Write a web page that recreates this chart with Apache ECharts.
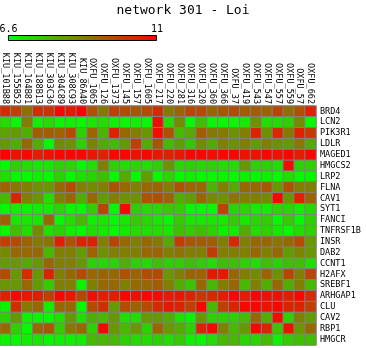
<!DOCTYPE html>
<html><head><meta charset="utf-8">
<script src="https://cdn.jsdelivr.net/npm/echarts@6/dist/echarts.min.js"></script>
<style>html,body{margin:0;padding:0;background:#fff}#c{width:366px;height:348px}</style>
</head><body><div id="c"></div>
<script>
const titleText = 'network 301 - Loi';
const scaleMin = 6.6, scaleMax = 11;
const scaleLabels = ['6.6', '11'];
const samples = ['KIU_101B88','KIU_155B52','KIU_164B81','KIU_188B13','KIU_303C36','KIU_304C89','KIU_308C93','KIU_86A40','OXFU_1065','OXFU_126','OXFU_1373','OXFU_145','OXFU_157','OXFU_1605','OXFU_217','OXFU_220','OXFU_281','OXFU_316','OXFU_320','OXFU_360','OXFU_366','OXFU_37','OXFU_419','OXFU_543','OXFU_547','OXFU_557','OXFU_559','OXFU_57','OXFU_662'];
const genes = ['BRD4','LCN2','PIK3R1','LDLR','MAGED1','HMGCS2','LRP2','FLNA','CAV1','SYT1','FANCI','TNFRSF1B','INSR','DAB2','CCNT1','H2AFX','SREBF1','ARHGAP1','CLU','CAV2','RBP1','HMGCR'];

const vBRD4    = [10.2,9.9,9.1,10.2,10.1,10.9,10.6,11.0,9.6,8.9,9.9,9.7,9.5,9.7,10.2,8.9,9.3,9.8,9.7,9.3,9.5,9.7,9.4,9.4,9.3,9.8,9.1,9.6,10.4];
const vLCN2    = [7.2,6.7,8.8,6.8,7.2,6.7,6.8,6.7,7.0,7.2,6.8,6.7,6.8,6.7,10.8,7.2,8.6,6.7,7.7,6.7,6.7,6.7,7.0,8.5,7.2,7.2,7.4,8.6,6.7];
const vPIK3R1  = [8.2,8.3,8.0,9.4,9.4,9.3,9.7,7.4,9.3,7.9,10.4,9.2,8.8,8.4,10.8,9.6,7.8,8.1,9.4,8.9,8.9,8.5,8.8,10.4,8.5,10.3,8.9,10.4,10.0];
const vLDLR    = [8.4,8.0,9.2,8.0,6.7,8.6,8.5,7.4,8.8,8.1,7.8,8.4,9.9,8.0,9.5,7.8,8.3,7.6,8.6,8.1,8.8,8.5,8.8,8.3,8.8,8.5,8.3,8.9,8.1];
const vMAGED1  = [11.0,10.7,10.9,10.5,10.7,10.9,10.9,10.9,10.6,10.4,10.9,10.9,10.7,10.9,10.6,10.4,10.6,10.9,10.9,10.8,10.9,10.9,10.7,10.7,10.9,10.7,10.9,10.5,10.9];
const vHMGCS2  = [6.7,7.4,7.2,7.0,7.0,7.4,7.3,6.7,7.2,8.8,7.4,7.2,7.3,7.2,7.4,8.5,7.3,7.4,7.3,7.4,7.2,7.2,8.4,7.4,7.4,7.2,10.8,7.4,7.4];
const vLRP2    = [7.2,6.7,6.7,6.9,6.7,7.4,6.7,7.2,7.4,7.7,6.7,8.1,6.7,8.3,6.7,7.3,6.7,6.9,6.7,6.7,6.8,6.7,6.9,6.7,6.9,6.7,7.2,6.7,6.8];
const vFLNA    = [9.3,9.0,8.8,8.5,8.4,9.2,9.7,8.8,8.6,8.8,9.6,9.2,8.8,9.2,9.3,8.8,9.6,9.3,9.2,7.9,8.8,8.1,9.2,9.2,9.5,8.4,9.6,8.8,8.8];
const vCAV1    = [7.8,10.4,8.8,8.4,7.2,8.8,9.2,8.0,9.2,8.3,8.8,8.5,8.5,9.6,9.6,9.3,8.0,8.3,9.2,8.6,8.5,9.0,8.8,8.8,8.6,10.9,8.4,10.4,9.3];
const vSYT1    = [6.7,6.9,6.8,6.9,6.9,7.3,6.7,6.7,7.4,9.8,6.7,10.9,7.5,7.2,7.2,7.5,7.4,6.7,6.7,6.7,9.8,7.3,7.3,6.9,6.9,7.3,7.3,6.9,7.3];
const vFANCI   = [9.3,7.0,7.0,7.0,9.2,6.7,7.2,7.8,6.9,7.0,6.7,7.0,7.5,7.3,7.0,6.7,7.5,7.0,7.0,7.0,7.0,7.5,7.0,7.3,7.5,6.7,7.5,6.7,7.4];
const vTNFRSF1B= [6.7,7.7,7.2,8.6,7.2,7.4,6.9,6.7,7.2,7.0,6.7,7.0,7.2,7.2,7.2,7.0,7.7,7.5,7.7,7.4,6.9,7.0,8.1,7.2,7.4,7.0,6.7,7.2,7.4];
const vINSR    = [9.9,9.7,9.3,8.9,9.0,10.5,9.6,10.4,10.4,8.8,9.8,9.2,8.8,9.2,8.9,8.1,10.0,9.5,9.4,9.4,8.8,10.3,8.8,9.2,9.2,9.0,9.2,9.7,8.4];
const vDAB2    = [8.6,9.2,9.2,9.2,7.8,8.8,8.8,8.3,9.3,8.5,8.8,8.8,8.8,9.2,9.3,8.8,9.0,8.8,8.8,10.0,8.8,8.8,8.8,9.2,8.8,9.2,8.3,8.7,8.4];
const vCCNT1   = [8.3,8.4,8.1,8.4,9.2,8.8,8.8,8.4,7.4,7.3,7.4,8.0,7.4,7.3,7.7,7.4,7.5,7.7,7.5,7.2,7.7,7.7,7.4,7.2,7.7,7.4,7.7,7.7,7.2];
const vH2AFX   = [9.7,8.4,10.2,8.4,10.4,8.8,9.2,9.7,9.2,9.3,9.2,9.6,9.3,9.7,9.7,8.4,8.8,9.3,9.3,10.6,10.6,9.2,8.8,8.6,9.3,8.5,9.8,8.8,9.8];
const vSREBF1  = [8.4,8.4,9.2,8.3,7.5,8.8,8.8,6.8,8.8,9.2,9.2,8.8,9.2,9.2,9.4,8.8,8.0,7.6,9.2,7.8,8.8,9.2,7.8,8.8,8.0,9.2,8.0,8.8,7.8];
const vARHGAP1 = [10.4,10.9,10.6,10.5,9.9,10.9,10.6,9.8,10.8,10.5,10.5,10.9,10.7,10.9,10.8,10.5,10.6,10.4,10.0,10.3,10.5,10.9,10.5,10.9,10.7,10.7,10.5,10.9,10.2];
const vCLU     = [6.8,10.2,8.9,9.2,6.9,9.2,9.2,6.7,9.7,10.2,8.3,9.7,9.3,9.7,10.3,10.6,10.4,9.9,10.9,7.8,9.9,10.4,10.9,10.9,10.7,10.9,10.4,10.4,9.9];
const vCAV2    = [7.4,8.4,6.9,6.8,6.7,7.2,8.4,7.2,8.0,7.8,8.4,7.2,7.2,8.4,8.4,8.0,7.2,6.8,8.4,7.4,7.4,7.4,7.8,9.2,8.0,10.8,7.4,8.8,8.3];
const vRBP1    = [9.2,7.4,6.7,9.2,9.5,7.5,8.9,9.2,7.4,10.9,8.4,7.8,8.4,7.4,9.3,8.4,8.0,7.4,10.4,10.9,8.8,7.8,8.4,10.9,10.4,7.6,10.7,8.4,9.2];
const vHMGCR    = [6.8,6.7,6.9,7.0,6.7,6.9,6.8,6.9,7.8,7.8,7.8,7.4,7.2,7.2,7.4,7.2,7.5,6.8,6.7,7.2,7.8,7.8,7.3,7.3,7.8,6.8,7.5,7.7,7.7];

const rows = [vBRD4,vLCN2,vPIK3R1,vLDLR,vMAGED1,vHMGCS2,vLRP2,vFLNA,vCAV1,vSYT1,vFANCI,vTNFRSF1B,vINSR,vDAB2,vCCNT1,vH2AFX,vSREBF1,vARHGAP1,vCLU,vCAV2,vRBP1,vHMGCR];
const data = [];
rows.forEach((r, yi) => r.forEach((v, xi) => data.push([xi, yi, v])));

const mono = 'DejaVu Sans Mono';
const chart = echarts.init(document.getElementById('c'), null, {renderer: 'canvas'});
chart.setOption({
  animation: false,
  backgroundColor: '#ffffff',
  title: {text: titleText, left: 'center', top: -1,
    textStyle: {fontFamily: mono, fontSize: 13, fontWeight: 'normal', color: '#000'}},
  grid: {left: 0, right: 50, top: 106, bottom: 3, containLabel: false},
  xAxis: {type: 'category', data: samples, position: 'top',
    axisLine: {show: false}, axisTick: {show: false}, splitLine: {show: false},
    axisLabel: {rotate: 90, interval: 0, margin: 2, fontFamily: mono, fontSize: 8.5, color: '#000'}},
  yAxis: {type: 'category', data: genes, position: 'right', inverse: true,
    axisLine: {show: false}, axisTick: {show: false}, splitLine: {show: false},
    axisLabel: {interval: 0, margin: 4, fontFamily: mono, fontSize: 8.5, color: '#000'}},
  visualMap: {show: false, type: 'continuous', min: scaleMin, max: scaleMax, dimension: 2,
    inRange: {color: ['#00ff00', '#ff0000']}},
  series: [{type: 'heatmap', data: data,
    itemStyle: {borderColor: '#808080', borderWidth: 1},
    emphasis: {disabled: true}}],
  graphic: [
    {type: 'rect', shape: {x: 8.5, y: 35.5, width: 148, height: 5},
      style: {fill: new echarts.graphic.LinearGradient(0, 0, 1, 0, [{offset: 0, color: '#00ff00'}, {offset: 1, color: '#ff0000'}]),
        stroke: '#000', lineWidth: 1}},
    {type: 'text', x: 8.5, y: 34, style: {text: scaleLabels[0], fontFamily: mono, fontSize: 10, fill: '#000', align: 'center', verticalAlign: 'bottom'}},
    {type: 'text', x: 157, y: 34, style: {text: scaleLabels[1], fontFamily: mono, fontSize: 10, fill: '#000', align: 'center', verticalAlign: 'bottom'}}
  ]
});
</script></body></html>
